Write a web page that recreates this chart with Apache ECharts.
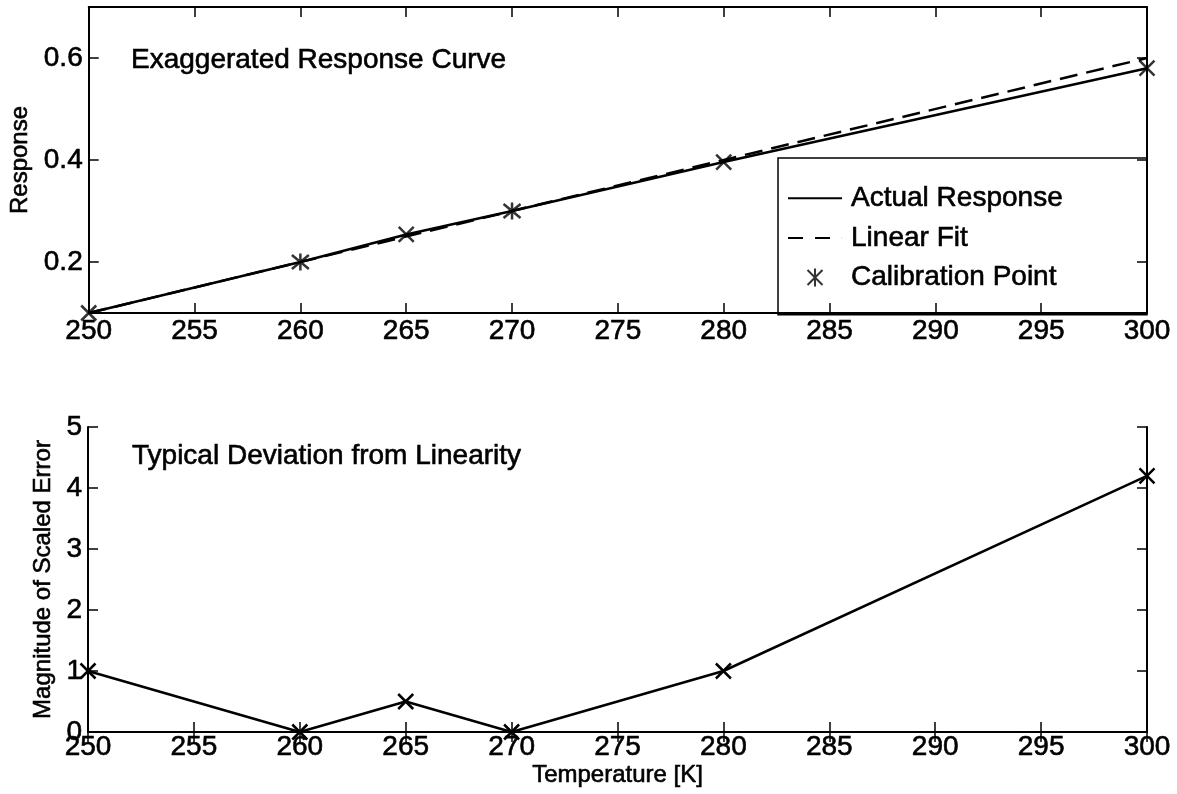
<!DOCTYPE html>
<html>
<head>
<meta charset="utf-8">
<title>Response Curve</title>
<script src="https://cdn.jsdelivr.net/npm/echarts@6/dist/echarts.min.js"></script>
<style>
  html, body { margin: 0; padding: 0; background: #fff; }
  #chart { width: 1177px; height: 794px; }
</style>
</head>
<body>
<div id="chart"></div>
<script>
// Temperatures [K] at which the sensor response was sampled
const temps = [250, 260, 265, 270, 280, 300];
// Actual (slightly non-linear) sensor response
const actualResponse = [0.1, 0.2, 0.254, 0.3, 0.396, 0.58];
// Straight-line fit through the calibration points (end points)
const fitTemps = [250, 300];
const linearFit = [0.1, 0.6];
// Calibration temperatures
const calibrationTemps = [260, 270];
// Magnitude of the scaled deviation from linearity
const scaledError = [1, 0, 0.5, 0, 1, 4.2];
// Tick values on the response axis
const responseTicks = [0.2, 0.4, 0.6];

const FONT = '"Liberation Sans", Arial, Helvetica, sans-serif';
const INK = '#000';
// slight stroke to give the text a heavier print weight
const HEAVY = { textBorderColor: INK, textBorderWidth: 0.6 };

const pairs = (xs, ys) => xs.map((x, i) => [x, ys[i]]);
const calibrationPts = calibrationTemps.map(t => [t, actualResponse[temps.indexOf(t)]]);
const otherPts = temps
  .map((t, i) => [t, actualResponse[i]])
  .filter(p => calibrationTemps.indexOf(p[0]) < 0);

const CROSS = 'path://M-1,-1L1,1M-1,1L1,-1';
const STAR = 'path://M0,-1.2L0,1.2M-1,-1L1,1M-1,1L1,-1';
// legend samples: a solid bar and a two-dash bar
const SOLID_ICON = 'path://M0,0L54,0L54,2L0,2Z';
const DASH_ICON = 'path://M0,0L15,0L15,2L0,2ZM27,0L42,0L42,2L27,2ZM53.9,0L54,0L54,2L53.9,2Z';

const axisLine = { show: true, lineStyle: { color: INK, width: 2 } };
const tickIn = { show: true, inside: true, length: 10, lineStyle: { color: INK, width: 1.5 } };
const labelStyle = Object.assign({ color: INK, fontFamily: FONT, fontSize: 28 }, HEAVY);
const nameStyle = Object.assign({ color: INK, fontFamily: FONT, fontSize: 24 }, HEAVY);

function xAxes(grid, labelMargin, withName) {
  const base = {
    type: 'value', gridIndex: grid, min: 250, max: 300, interval: 5,
    splitLine: { show: false }, axisLine: axisLine, axisTick: tickIn, z: 10
  };
  const bottom = Object.assign({}, base, {
    position: 'bottom',
    axisLabel: Object.assign({ margin: labelMargin }, labelStyle)
  });
  if (withName) {
    Object.assign(bottom, {
      name: 'Temperature [K]', nameLocation: 'middle', nameGap: 31,
      nameTextStyle: Object.assign({ verticalAlign: 'top' }, nameStyle)
    });
  }
  const top = Object.assign({}, base, { position: 'top', axisLabel: { show: false } });
  return [bottom, top];
}

const titleStyle = Object.assign({ color: INK, fontFamily: FONT, fontSize: 28, fontWeight: 'normal' }, HEAVY);

const option = {
  backgroundColor: '#fff',
  animation: false,
  title: [
    { text: 'Exaggerated Response Curve', left: 131, top: 46, padding: 0, textStyle: titleStyle },
    { text: 'Typical Deviation from Linearity', left: 132, top: 442, padding: 0, textStyle: titleStyle }
  ],
  grid: [
    { left: 88, right: 30, top: 7, height: 306, containLabel: false },
    { left: 88, right: 30, top: 427, height: 305, containLabel: false }
  ],
  xAxis: [].concat(xAxes(0, 4, false), xAxes(1, 1, true)),
  yAxis: [
    {
      type: 'value', gridIndex: 0, position: 'left', min: 0.1, max: 0.7,
      splitLine: { show: false }, axisLine: axisLine, z: 10,
      axisTick: Object.assign({ customValues: responseTicks }, tickIn),
      axisLabel: Object.assign({ customValues: responseTicks, margin: 6,
        formatter: v => v.toFixed(1) }, labelStyle),
      name: 'Response', nameLocation: 'middle', nameGap: 51,
      nameTextStyle: nameStyle
    },
    {
      type: 'value', gridIndex: 0, position: 'right', min: 0.1, max: 0.7,
      splitLine: { show: false }, axisLine: axisLine, z: 10,
      axisTick: Object.assign({ customValues: responseTicks }, tickIn),
      axisLabel: { show: false }
    },
    {
      type: 'value', gridIndex: 1, position: 'left', min: 0, max: 5, interval: 1,
      splitLine: { show: false }, axisLine: axisLine, axisTick: tickIn, z: 10,
      axisLabel: Object.assign({ margin: 6 }, labelStyle),
      name: 'Magnitude of Scaled Error', nameLocation: 'middle', nameGap: 30,
      nameTextStyle: nameStyle
    },
    {
      type: 'value', gridIndex: 1, position: 'right', min: 0, max: 5, interval: 1,
      splitLine: { show: false }, axisLine: axisLine, axisTick: tickIn, z: 10,
      axisLabel: { show: false }
    }
  ],
  legend: {
    data: [
      { name: 'Actual Response', icon: SOLID_ICON },
      { name: 'Linear Fit', icon: DASH_ICON },
      { name: 'Calibration Point', icon: STAR }
    ],
    orient: 'vertical',
    right: 30, top: 158,
    padding: [26, 84, 23, 10],
    itemWidth: 54, itemHeight: 18, itemGap: 11,
    backgroundColor: '#fff',
    borderColor: INK, borderWidth: 1.5, borderRadius: 0,
    z: 3,
    textStyle: Object.assign({ color: INK, fontFamily: FONT, fontSize: 28, lineHeight: 28,
      padding: [0, 0, 0, 4] }, HEAVY)
  },
  series: [
    {
      name: 'Actual Response', type: 'line', xAxisIndex: 0, yAxisIndex: 0,
      data: pairs(temps, actualResponse), symbol: 'none',
      lineStyle: { color: INK, width: 2.5 }, itemStyle: { color: INK }, z: 4
    },
    {
      name: 'Linear Fit', type: 'line', xAxisIndex: 0, yAxisIndex: 0,
      data: pairs(fitTemps, linearFit), symbol: 'none',
      lineStyle: { color: INK, width: 2.5, type: [18, 9] }, itemStyle: { color: INK }, z: 3
    },
    {
      name: 'Calibration Point', type: 'scatter', xAxisIndex: 0, yAxisIndex: 0,
      data: calibrationPts, symbol: STAR, symbolSize: 17,
      itemStyle: { color: 'rgba(0,0,0,0)', borderColor: INK, borderWidth: 2.5 }, z: 5
    },
    {
      name: 'Sample', type: 'scatter', xAxisIndex: 0, yAxisIndex: 0,
      data: otherPts, symbol: CROSS, symbolSize: 15,
      itemStyle: { color: 'rgba(0,0,0,0)', borderColor: INK, borderWidth: 2.5 }, z: 5
    },
    {
      name: 'Scaled Error', type: 'line', xAxisIndex: 2, yAxisIndex: 2,
      data: pairs(temps, scaledError), symbol: CROSS, symbolSize: 15, showAllSymbol: true,
      clip: false,
      lineStyle: { color: INK, width: 2.5 },
      itemStyle: { color: 'rgba(0,0,0,0)', borderColor: INK, borderWidth: 2.5 }, z: 4
    }
  ]
};

const chart = echarts.init(document.getElementById('chart'), null, { renderer: 'canvas' });
chart.setOption(option);
</script>
</body>
</html>
